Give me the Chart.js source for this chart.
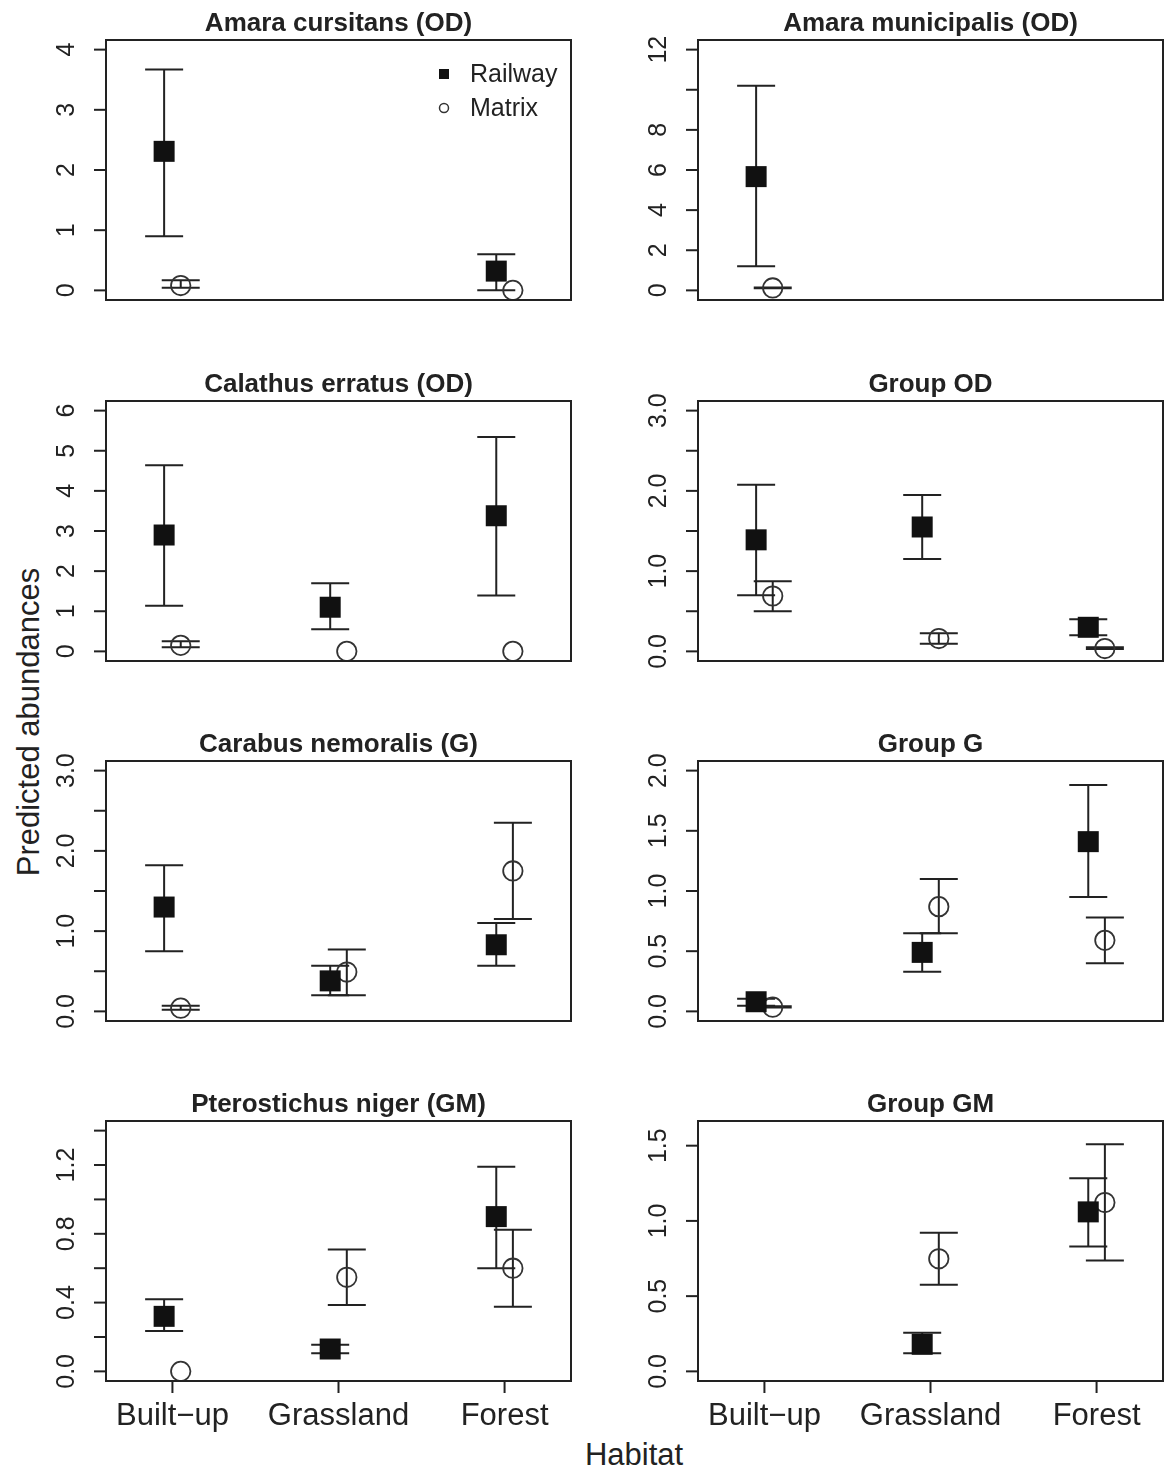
<!DOCTYPE html>
<html><head><meta charset="utf-8">
<script src="https://cdn.jsdelivr.net/npm/chart.js@4.4.1/dist/chart.umd.min.js"></script>
<style>
html,body{margin:0;padding:0;background:#fff;}
#wrap{position:relative;width:1164px;height:1472px;overflow:hidden;background:#fff;font-family:"Liberation Sans",Arial,sans-serif;color:#222;}
canvas{position:absolute;left:0;top:0;}
.lab{position:absolute;font-size:31px;line-height:1;white-space:nowrap;}
#ylab{left:28px;top:722px;transform:translate(-50%,-50%) rotate(-90deg);}
#xlab{left:634px;top:1454px;transform:translate(-50%,-50%);}
</style></head><body>
<div id="wrap">
  <div class="lab" id="ylab">Predicted abundances</div>
  <div class="lab" id="xlab">Habitat</div>
</div>
<script>
// ---------- DATA ----------
const habitats = ["Built\u2212up", "Grassland", "Forest"];
const seriesNames = ["Railway", "Matrix"];
const panelTitles = [
  "Amara cursitans (OD)", "Amara municipalis (OD)",
  "Calathus erratus (OD)", "Group OD",
  "Carabus nemoralis (G)", "Group G",
  "Pterostichus niger (GM)", "Group GM"
];
const yMax = [4, 12, 6, 3, 3, 2, 1.4, 1.6];
const yTicks = [
  [0, 1, 2, 3, 4],
  [0, 2, 4, 6, 8, 10, 12],
  [0, 1, 2, 3, 4, 5, 6],
  [0, 0.5, 1, 1.5, 2, 2.5, 3],
  [0, 0.5, 1, 1.5, 2, 2.5, 3],
  [0, 0.5, 1, 1.5, 2],
  [0, 0.2, 0.4, 0.6, 0.8, 1.0, 1.2, 1.4],
  [0, 0.5, 1, 1.5]
];
const yTickLabels = [
  ["0", "1", "2", "3", "4"],
  ["0", "2", "4", "6", "8", "", "12"],
  ["0", "1", "2", "3", "4", "5", "6"],
  ["0.0", "", "1.0", "", "2.0", "", "3.0"],
  ["0.0", "", "1.0", "", "2.0", "", "3.0"],
  ["0.0", "0.5", "1.0", "1.5", "2.0"],
  ["0.0", "", "0.4", "", "0.8", "", "1.2", ""],
  ["0.0", "0.5", "1.0", "1.5"]
];
// Railway (filled squares)
const railMean = [
  [2.31, null, 0.32],
  [5.67, null, null],
  [2.90, 1.10, 3.38],
  [1.39, 1.55, 0.30],
  [1.30, 0.38, 0.83],
  [0.08, 0.49, 1.41],
  [0.32, 0.13, 0.90],
  [null, 0.18, 1.06]
];
const railLow = [
  [0.90, null, 0.00],
  [1.20, null, null],
  [1.14, 0.55, 1.39],
  [0.70, 1.15, 0.20],
  [0.75, 0.20, 0.57],
  [0.047, 0.33, 0.95],
  [0.235, 0.106, 0.60],
  [null, 0.12, 0.83]
];
const railHigh = [
  [3.67, null, 0.60],
  [10.2, null, null],
  [4.64, 1.70, 5.34],
  [2.075, 1.95, 0.40],
  [1.82, 0.57, 1.10],
  [0.105, 0.65, 1.88],
  [0.42, 0.155, 1.19],
  [null, 0.256, 1.283]
];
// Matrix (open circles)
const matMean = [
  [0.08, null, 0.00],
  [0.12, null, null],
  [0.15, 0.00, 0.00],
  [0.69, 0.16, 0.035],
  [0.04, 0.49, 1.75],
  [0.035, 0.87, 0.59],
  [0.00, 0.547, 0.60],
  [null, 0.748, 1.122]
];
const matLow = [
  [0.044, null, null],
  [0.11, null, null],
  [0.10, null, null],
  [0.50, 0.096, 0.03],
  [0.02, 0.20, 1.15],
  [0.033, 0.65, 0.40],
  [null, 0.386, 0.376],
  [null, 0.575, 0.737]
];
const matHigh = [
  [0.167, null, null],
  [0.14, null, null],
  [0.25, null, null],
  [0.875, 0.225, 0.05],
  [0.07, 0.77, 2.35],
  [0.042, 1.10, 0.78],
  [null, 0.708, 0.823],
  [null, 0.922, 1.51]
];

// ---------- LAYOUT / STYLE ----------
const W = 1164, H = 1472;
const colLeft = [106, 698], colRight = [571, 1163];
const rowTop = [40, 401, 761, 1121], boxH = 260;
const OFF = [-0.05, 0.05];
const capHalf = 19;
const ink = '#222';
const FONT = '"Liberation Sans", Arial, sans-serif';

function pts(arr, off) {
  const out = [];
  arr.forEach((v, i) => { if (v !== null) out.push({x: i + 1 + off, y: v}); });
  return out;
}

function decor(p, bottomRow) {
  return {
    id: 'decor',
    beforeDatasetsDraw(chart) {
      const ctx = chart.ctx, xs = chart.scales.x, ys = chart.scales.y;
      ctx.save();
      ctx.strokeStyle = ink; ctx.lineWidth = 2; ctx.lineCap = 'butt';
      const sets = [[railLow[p], railHigh[p], OFF[0]], [matLow[p], matHigh[p], OFF[1]]];
      sets.forEach(([lo, hi, off]) => {
        for (let i = 0; i < 3; i++) {
          const l = lo[i], h = hi[i];
          if (l === null || h === null) continue;
          const x = xs.getPixelForValue(i + 1 + off);
          const y1 = ys.getPixelForValue(l), y2 = ys.getPixelForValue(h);
          ctx.beginPath();
          ctx.moveTo(x, y1); ctx.lineTo(x, y2);
          ctx.moveTo(x - capHalf, y1); ctx.lineTo(x + capHalf, y1);
          ctx.moveTo(x - capHalf, y2); ctx.lineTo(x + capHalf, y2);
          ctx.stroke();
        }
      });
      ctx.restore();
    },
    afterDraw(chart) {
      const ctx = chart.ctx, xs = chart.scales.x, ys = chart.scales.y;
      const a = chart.chartArea;
      ctx.save();
      ctx.strokeStyle = ink; ctx.fillStyle = ink; ctx.lineWidth = 2;
      // box
      ctx.strokeRect(a.left, a.top, a.right - a.left, a.bottom - a.top);
      // y ticks + labels
      ctx.font = '25px ' + FONT;
      ctx.textAlign = 'center'; ctx.textBaseline = 'middle';
      yTicks[p].forEach((v, k) => {
        const y = ys.getPixelForValue(v);
        ctx.beginPath(); ctx.moveTo(a.left - 12, y); ctx.lineTo(a.left, y); ctx.stroke();
        const t = yTickLabels[p][k];
        if (t) {
          ctx.save(); ctx.translate(a.left - 40, y); ctx.rotate(-Math.PI / 2);
          ctx.fillText(t, 0, 1); ctx.restore();
        }
      });
      // x ticks (bottom row only)
      if (bottomRow) {
        ctx.font = '31px ' + FONT;
        ctx.textAlign = 'center'; ctx.textBaseline = 'middle';
        habitats.forEach((hb, i) => {
          const x = xs.getPixelForValue(i + 1);
          ctx.beginPath(); ctx.moveTo(x, a.bottom); ctx.lineTo(x, a.bottom + 12); ctx.stroke();
          ctx.fillText(hb, x, a.bottom + 35);
        });
      }
      // title
      ctx.font = 'bold 26px ' + FONT;
      ctx.textAlign = 'center'; ctx.textBaseline = 'alphabetic';
      ctx.fillText(panelTitles[p], (a.left + a.right) / 2, a.top - 9);
      // legend (first panel)
      if (p === 0) {
        const lx = a.left + 338, ly1 = a.top + 34, ly2 = a.top + 68;
        ctx.fillStyle = '#111';
        ctx.fillRect(lx - 5, ly1 - 5, 10, 10);
        ctx.strokeStyle = '#333'; ctx.lineWidth = 1.5;
        ctx.beginPath(); ctx.arc(lx, ly2, 4.5, 0, Math.PI * 2); ctx.stroke();
        ctx.fillStyle = ink; ctx.font = '25px ' + FONT;
        ctx.textAlign = 'left'; ctx.textBaseline = 'middle';
        ctx.fillText(chart.data.datasets[0].label, lx + 26, ly1 + 1);
        ctx.fillText(chart.data.datasets[1].label, lx + 26, ly2 + 1);
      }
      ctx.restore();
    }
  };
}

const wrap = document.getElementById('wrap');
for (let p = 0; p < 8; p++) {
  const c = document.createElement('canvas');
  c.width = W; c.height = H;
  wrap.appendChild(c);
  const col = p % 2, row = Math.floor(p / 2);
  const L = colLeft[col], R = colRight[col], T = rowTop[row], B = T + boxH;
  new Chart(c, {
    type: 'scatter',
    data: {
      datasets: [
        {label: seriesNames[0], data: pts(railMean[p], OFF[0]), pointStyle: 'rect',
         pointRadius: 14.85, pointHoverRadius: 14.85, backgroundColor: '#111',
         borderColor: '#111', borderWidth: 0, clip: false},
        {label: seriesNames[1], data: pts(matMean[p], OFF[1]), pointStyle: 'circle',
         pointRadius: 9.7, pointHoverRadius: 9.7, backgroundColor: 'rgba(0,0,0,0)',
         borderColor: '#333', borderWidth: 1.8, clip: false}
      ]
    },
    options: {
      responsive: false, animation: false, devicePixelRatio: 1, events: [],
      layout: {autoPadding: false, padding: {left: L, top: T, right: W - R, bottom: H - B}},
      scales: {
        x: {type: 'linear', display: false, min: 0.6, max: 3.4},
        y: {type: 'linear', display: false, min: -0.04 * yMax[p], max: 1.04 * yMax[p]}
      },
      plugins: {legend: {display: false}, tooltip: {enabled: false}, title: {display: false}}
    },
    plugins: [decor(p, row === 3)]
  });
}
</script>
</body></html>
